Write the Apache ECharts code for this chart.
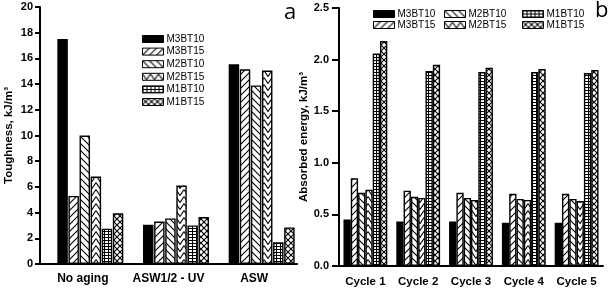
<!DOCTYPE html>
<html><head><meta charset="utf-8">
<script src="https://cdn.jsdelivr.net/npm/echarts@6/dist/echarts.min.js"></script>
<style>html,body{margin:0;padding:0;background:#fff}#c{width:614px;height:289px}</style>
</head><body><div id="c"></div>
<script>
// ---- data ----
const seriesNames = ['M3BT10','M3BT15','M2BT10','M2BT15','M1BT10','M1BT15'];
const catsA = ['No aging','ASW1/2 - UV','ASW'];
const M3BT10_a = [17.5, 3.05, 15.55];
const M3BT15_a = [5.3, 3.3, 15.15];
const M2BT10_a = [10.0, 3.55, 13.9];
const M2BT15_a = [6.8, 6.1, 15.05];
const M1BT10_a = [2.75, 3.0, 1.7];
const M1BT15_a = [3.95, 3.65, 2.85];
const catsB = ['Cycle 1','Cycle 2','Cycle 3','Cycle 4','Cycle 5'];
const M3BT10_b = [0.45, 0.43, 0.43, 0.42, 0.42];
const M3BT15_b = [0.85, 0.73, 0.71, 0.70, 0.70];
const M2BT10_b = [0.71, 0.67, 0.66, 0.65, 0.65];
const M2BT15_b = [0.74, 0.66, 0.64, 0.64, 0.63];
const M1BT10_b = [2.06, 1.89, 1.88, 1.88, 1.87];
const M1BT15_b = [2.18, 1.95, 1.92, 1.91, 1.90];
const yTicksA = {min:0, max:20, interval:2};
const yTicksB = {min:0, max:2.5, interval:0.5};

// ---- patterns ----
function pat(w, h, draw) {
  const c = document.createElement('canvas'); c.width = w; c.height = h;
  const x = c.getContext('2d'); x.fillStyle = '#fff'; x.fillRect(0,0,w,h);
  x.strokeStyle = '#000'; x.lineWidth = 1.1; x.beginPath(); draw(x, w, h); x.stroke();
  return {image: c, repeat: 'repeat'};
}
const fills = [
  '#000',
  pat(7,7,(x)=>{x.moveTo(-1,8);x.lineTo(8,-1);x.moveTo(-1,1);x.lineTo(1,-1);x.moveTo(6,8);x.lineTo(8,6);}),
  pat(7,7,(x)=>{x.moveTo(-1,-1);x.lineTo(8,8);x.moveTo(6,-1);x.lineTo(8,1);x.moveTo(-1,6);x.lineTo(1,8);}),
  pat(8,7,(x)=>{x.moveTo(0,0.5);x.lineTo(4,6.5);x.lineTo(8,0.5);}),
  pat(4,3,(x)=>{x.moveTo(0,0.5);x.lineTo(4,0.5);x.moveTo(0.5,0);x.lineTo(0.5,3);}),
  pat(6,6,(x)=>{x.moveTo(0,0);x.lineTo(6,6);x.moveTo(6,0);x.lineTo(0,6);})
];
const dataA = [M3BT10_a,M3BT15_a,M2BT10_a,M2BT15_a,M1BT10_a,M1BT15_a];
const dataB = [M3BT10_b,M3BT15_b,M2BT10_b,M2BT15_b,M1BT10_b,M1BT15_b];

const font = 'Liberation Sans, Arial, sans-serif';
const axisLine = {show:true, onZero:false, lineStyle:{color:'#000', width:2}};
const series = [];
seriesNames.forEach((n,i)=>{
  series.push({type:'bar', name:n, xAxisIndex:1, yAxisIndex:1, data:dataA[i],
    barGap:'6%', barCategoryGap:'23%',
    itemStyle:{color:fills[i], borderColor:'#000', borderWidth:1.4}, emphasis:{disabled:true}});
});
seriesNames.forEach((n,i)=>{
  series.push({type:'bar', name:n, xAxisIndex:2, yAxisIndex:2, data:dataB[i],
    barGap:'0%', barCategoryGap:'17%',
    itemStyle:{color:fills[i], borderColor:'#000', borderWidth:1.4}, emphasis:{disabled:true}});
});
const legendCommon = {orient:'vertical', itemWidth:21, itemHeight:7, icon:'rect', padding:0,
  textStyle:{fontFamily:font, fontSize:10, lineHeight:10, color:'#000', padding:[0,0,0,-2]},
  itemStyle:{borderColor:'#000', borderWidth:1}, selectedMode:false};
const option = {
  animation:false,
  textStyle:{fontFamily:font},
  grid:[
    {left:40, top:7, width:257, height:257},
    {left:47.5, top:7, width:257, height:257},
    {left:339, top:8, width:264, height:258}
  ],
  xAxis:[
    {type:'category', gridIndex:0, data:catsA, axisLine:axisLine, axisTick:{show:false},
     axisLabel:{interval:0, fontFamily:font, fontWeight:'bold', fontSize:12, color:'#000', margin:9}},
    {type:'category', gridIndex:1, data:catsA, show:false},
    {type:'category', gridIndex:2, data:catsB, axisLine:axisLine, axisTick:{show:false},
     axisLabel:{interval:0, fontFamily:font, fontWeight:'bold', fontSize:11.5, color:'#000', margin:10}}
  ],
  yAxis:[
    {type:'value', gridIndex:0, min:yTicksA.min, max:yTicksA.max, interval:yTicksA.interval,
     axisLine:axisLine, axisTick:{show:true, length:5, lineStyle:{width:2, color:'#000'}},
     splitLine:{show:false},
     axisLabel:{fontFamily:font, fontWeight:'bold', fontSize:11, color:'#000', margin:7},
     name:'Toughness, kJ/m³', nameLocation:'middle', nameGap:25,
     nameTextStyle:{fontFamily:font, fontWeight:'bold', fontSize:11.5, color:'#000'}},
    {type:'value', gridIndex:1, min:yTicksA.min, max:yTicksA.max, interval:yTicksA.interval, show:false, splitLine:{show:false}},
    {type:'value', gridIndex:2, min:yTicksB.min, max:yTicksB.max, interval:yTicksB.interval,
     axisLine:axisLine, axisTick:{show:true, length:7, lineStyle:{width:2, color:'#000'}},
     splitLine:{show:false},
     axisLabel:{fontFamily:font, fontWeight:'bold', fontSize:11, color:'#000', margin:10,
       formatter:v=>v.toFixed(1)},
     name:'Absorbed energy, kJ/m³', nameLocation:'middle', nameGap:28,
     nameTextStyle:{fontFamily:font, fontWeight:'bold', fontSize:11.5, color:'#000'}}
  ],
  legend:[
    Object.assign({left:142, top:34, itemGap:2.6, data:seriesNames}, legendCommon),
    Object.assign({left:373, top:9, itemGap:1, data:['M3BT10','M3BT15']}, legendCommon),
    Object.assign({left:444, top:9, itemGap:1, data:['M2BT10','M2BT15']}, legendCommon),
    Object.assign({left:522, top:9, itemGap:1, data:['M1BT10','M1BT15']}, legendCommon)
  ],
  graphic:[
    {type:'text', left:284, top:2, style:{text:'a', font:'22px "Open Sans", sans-serif', fill:'#000'}},
    {type:'text', left:595, top:0, style:{text:'b', font:'22px "Open Sans", sans-serif', fill:'#000'}}
  ],
  series:series
};
const chart = echarts.init(document.getElementById('c'), null, {renderer:'canvas'});
chart.setOption(option);
</script></body></html>
